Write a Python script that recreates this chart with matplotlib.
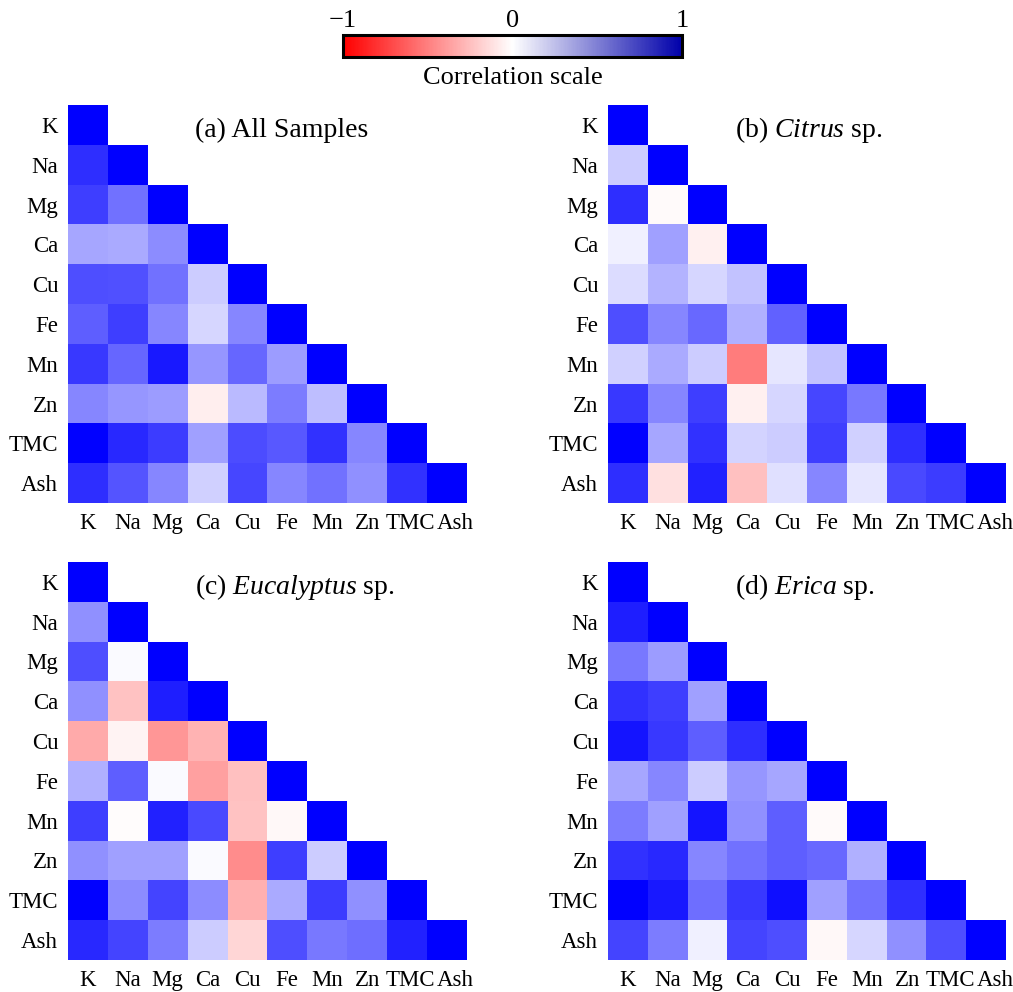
import numpy as np
import matplotlib
matplotlib.use("Agg")
import matplotlib.pyplot as plt
import matplotlib.transforms as mtransforms
from matplotlib.colors import LinearSegmentedColormap, Normalize
from matplotlib.cm import ScalarMappable

plt.rcParams['font.family'] = ['Liberation Serif', 'DejaVu Serif']
plt.rcParams['mathtext.fontset'] = 'custom'
plt.rcParams['mathtext.rm'] = 'Liberation Serif'
plt.rcParams['mathtext.it'] = 'Liberation Serif:italic'

elements = ['K', 'Na', 'Mg', 'Ca', 'Cu', 'Fe', 'Mn', 'Zn', 'TMC', 'Ash']

# lower-triangle rows (row i holds correlations with the first i elements)
all_samples = [
    [],
    [0.82],
    [0.75, 0.55],
    [0.35, 0.33, 0.45],
    [0.69, 0.68, 0.55, 0.20],
    [0.63, 0.75, 0.47, 0.16, 0.47],
    [0.78, 0.60, 0.90, 0.41, 0.60, 0.39],
    [0.47, 0.41, 0.39, -0.07, 0.27, 0.51, 0.25],
    [0.99, 0.84, 0.76, 0.37, 0.70, 0.65, 0.80, 0.47],
    [0.82, 0.67, 0.47, 0.18, 0.72, 0.47, 0.55, 0.43, 0.80],
]
citrus = [
    [],
    [0.20],
    [0.82, -0.02],
    [0.06, 0.37, -0.06],
    [0.14, 0.29, 0.16, 0.24],
    [0.69, 0.47, 0.59, 0.31, 0.61],
    [0.18, 0.33, 0.20, -0.51, 0.10, 0.24],
    [0.78, 0.47, 0.75, -0.06, 0.16, 0.72, 0.53],
    [0.99, 0.35, 0.80, 0.17, 0.20, 0.75, 0.18, 0.82],
    [0.82, -0.12, 0.86, -0.25, 0.12, 0.47, 0.10, 0.71, 0.76],
]
eucalyptus = [
    [],
    [0.43],
    [0.69, 0.02],
    [0.43, -0.24, 0.88],
    [-0.33, -0.04, -0.41, -0.29],
    [0.31, 0.63, 0.02, -0.37, -0.25],
    [0.75, -0.01, 0.86, 0.71, -0.24, -0.03],
    [0.43, 0.37, 0.37, 0.02, -0.45, 0.75, 0.20],
    [0.99, 0.45, 0.73, 0.45, -0.31, 0.33, 0.76, 0.43],
    [0.84, 0.73, 0.51, 0.20, -0.16, 0.69, 0.53, 0.57, 0.86],
]
erica = [
    [],
    [0.88],
    [0.53, 0.39],
    [0.80, 0.75, 0.37],
    [0.92, 0.78, 0.63, 0.82],
    [0.35, 0.47, 0.20, 0.41, 0.35],
    [0.51, 0.37, 0.92, 0.43, 0.63, -0.02],
    [0.80, 0.84, 0.47, 0.55, 0.63, 0.59, 0.31],
    [0.99, 0.90, 0.57, 0.78, 0.94, 0.37, 0.55, 0.82],
    [0.73, 0.51, 0.06, 0.73, 0.69, -0.03, 0.16, 0.43, 0.69],
]

panels = [
    ('(a) All Samples', all_samples),
    ('(b) $\\mathit{Citrus}$ sp.', citrus),
    ('(c) $\\mathit{Eucalyptus}$ sp.', eucalyptus),
    ('(d) $\\mathit{Erica}$ sp.', erica),
]

# small rightward nudge (pixels) so the long labels at the end don't collide
label_nudge = [0, 0, 0, 0, 0, 0, 0, 1, 4, 9]


def to_matrix(rows):
    n = len(rows)
    m = np.full((n, n), np.nan)
    for i, r in enumerate(rows):
        m[i, :i] = r
        m[i, i] = 1.0
    return np.ma.masked_invalid(m)


fig = plt.figure(figsize=(10.13, 9.92), dpi=100)
W, H = 1013, 992
boxes = [(68, 105), (608, 105), (68, 562), (608, 562)]
size = 398

for (title, rows), (x0, y0) in zip(panels, boxes):
    ax = fig.add_axes([x0 / W, (H - y0 - size) / H, size / W, size / H])
    ax.imshow(to_matrix(rows), cmap='bwr_r', vmin=-1, vmax=1, aspect='auto',
              interpolation='nearest')
    ax.set_xticks(range(len(elements)))
    ax.set_xticklabels(elements, fontsize=16.5)
    ax.set_yticks(range(len(elements)))
    ax.set_yticklabels(elements, fontsize=16.5)
    ax.tick_params(length=0, pad=7)
    for lbl, dx in zip(ax.get_xticklabels(), label_nudge):
        shift = mtransforms.ScaledTranslation(dx / 100, 0, fig.dpi_scale_trans)
        lbl.set_transform(lbl.get_transform() + shift)
    for s in ax.spines.values():
        s.set_visible(False)
    ax.text(2.69, 0.13, title, fontsize=20, ha='left', va='center')

# shared correlation scale
bar_cmap = LinearSegmentedColormap.from_list(
    'corr', [(0.0, '#ff0000'), (0.5, '#ffffff'), (1.0, '#0000aa')])
cax = fig.add_axes([343 / W, (H - 57) / H, 339 / W, 22 / H])
cb = fig.colorbar(ScalarMappable(norm=Normalize(-1, 1), cmap=bar_cmap),
                  cax=cax, orientation='horizontal', ticks=[-1, 0, 1])
cax.xaxis.set_ticks_position('top')
cax.tick_params(length=0, labelsize=19, pad=2)
cax.xaxis.set_label_position('bottom')
cb.set_label('Correlation scale', fontsize=19, labelpad=7)
cb.outline.set_linewidth(2.2)

fig.savefig('out.png', dpi=100)
